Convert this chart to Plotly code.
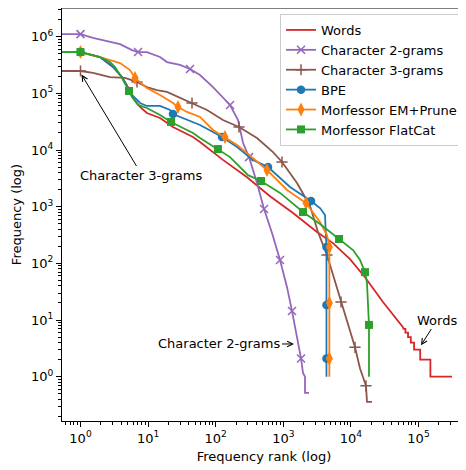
import math
import plotly.graph_objects as go

# ---------------- data (rank, frequency) ----------------
words_rank = [0.5, 1, 1.94, 3.03, 4.11, 5.04, 5.98, 7.6, 9.6, 15.0, 23.3, 32.8, 46.1, 58.6, 91.2, 128,
              291, 636, 1393, 3153, 5430, 9700, 16180, 29800, 58900, 60000, 64000, 64000, 70000, 70000,
              77000, 77000, 86000, 86000, 106000, 106000, 150000, 150000, 313000]
words_freq = [5.36e5, 5.36e5, 4.38e5, 2.92e5, 1.94e5, 1.29e5, 8.3e4, 5.75e4, 4.5e4, 3.68e4, 2.55e4, 2.08e4,
              1.7e4, 1.39e4, 9.2e3, 6.7e3, 3.3e3, 1.53e3, 774, 357, 228, 119, 57, 20.8, 7.5, 7, 7, 6, 6, 5,
              5, 4, 4, 3, 3, 2, 2, 1, 1]

bi_rank = [0.5, 1, 1.53, 3.84, 5.78, 7.1, 9.6, 15.0, 19.0, 29.6, 41.7, 58.6, 91.2, 163, 214, 254, 311, 408,
           519, 681, 894, 1135, 1346, 1596, 1829, 1956, 2094, 2094, 2401]
bi_freq = [1.11e6, 1.11e6, 9.5e5, 7.4e5, 5.8e5, 5.36e5, 5.36e5, 4.38e5, 3.57e5, 3.17e5, 2.69e5, 2.11e5,
           1.29e5, 6.24e4, 3.39e4, 1.33e4, 7.5e3, 2.62e3, 910, 343, 115, 38, 14.4, 5.0, 2.1, 1.16, 1,
           0.52, 0.52]
bi_marks = [1, 5, 10, 13, 16, 18, 20, 22, 24]

tri_rank = [0.5, 1, 1.53, 2.73, 4.55, 6.85, 9.6, 13.5, 19.0, 29.6, 44.6, 74.3, 128, 221, 408, 704, 957,
            1596, 2484, 3263, 4430, 7140, 11500, 13650, 15100, 16720, 17300, 20500]
tri_freq = [2.48e5, 2.48e5, 2.29e5, 1.94e5, 1.87e5, 1.59e5, 1.29e5, 1.14e5, 1.06e5, 8.3e4, 6.76e4, 5.09e4,
            3.39e4, 2.55e4, 1.63e4, 9.2e3, 6.15e3, 2.62e3, 1.03e3, 357, 140, 20.8, 3.3, 1.4, 1, 0.69,
            0.36, 0.36]
tri_marks = [1, 5, 10, 13, 16, 20, 21, 22, 25]

bpe_rank = [0.5, 1, 1.94, 3.03, 4.11, 5.04, 5.78, 7.6, 9.6, 15.0, 21.1, 23.3, 32.8, 46.1, 58.6, 91.2, 124,
            207, 356, 594, 1257, 2570, 3490, 4140, 4350, 4350, 4350, 4350]
bpe_freq = [5.36e5, 5.36e5, 4.38e5, 2.92e5, 1.94e5, 1.24e5, 9.35e4, 6.76e4, 5.99e4, 5.99e4, 5.09e4, 4.33e4,
            3.68e4, 3.13e4, 2.77e4, 2.08e4, 1.7e4, 1.13e4, 6.7e3, 5.0e3, 2.23e3, 1.26e3, 948, 713, 194,
            18.4, 2.1, 1]
bpe_marks = [1, 11, 16, 19, 21, 24, 25, 26]

em_rank = [0.5, 1, 1.94, 2.73, 3.84, 5.4, 6.4, 9.6, 15.0, 23.3, 27.7, 37.6, 58.6, 91.2, 137, 207, 356, 574,
           1135, 2167, 3490, 4430, 4800, 4800, 4800, 4800]
em_freq = [5.36e5, 5.36e5, 4.38e5, 3.87e5, 3.43e5, 2.58e5, 1.87e5, 1.24e5, 9.35e4, 6.76e4, 5.75e4, 4.7e4,
           3.83e4, 2.26e4, 1.7e4, 1.23e4, 7.2e3, 4.45e3, 1.97e3, 1.16e3, 537, 317, 194, 20, 2.1, 1]
em_marks = [1, 6, 10, 14, 17, 19, 22, 23, 24]

fc_rank = [0.5, 1, 1.94, 2.73, 3.24, 4.11, 5.22, 5.78, 7.1, 9.6, 15.0, 21.8, 32.8, 46.1, 58.6, 108, 163,
           301, 468, 894, 1956, 3490, 6670, 10740, 13650, 16180, 17300, 18520, 18520]
fc_freq = [5.36e5, 5.36e5, 4.38e5, 3.57e5, 2.92e5, 1.87e5, 1.1e5, 8.6e4, 6.24e4, 5.52e4, 4.15e4, 3.13e4,
           2.45e4, 2.0e4, 1.63e4, 1.04e4, 7.5e3, 3.6e3, 2.84e3, 1.75e3, 805, 495, 269, 172, 115, 70, 45,
           8.2, 1]
fc_marks = [1, 6, 11, 15, 18, 20, 22, 25, 27]

# annotations: (text, head rank, head freq, text rank, text freq)
notes = [
    ("Character 3-grams", 1.0, 2.3e5, 8.1, 3620),
    ("Character 2-grams", 1540, 3.78, 112, 3.78),
    ("Words", 105000, 3.35, 188000, 10),
]

x_ticks = [1, 10, 100, 1000, 10000, 100000]
y_ticks = [1, 10, 100, 1000, 10000, 100000, 1000000]

# ---------------- figure ----------------
FONT = "DejaVu Sans"
FS = 13
LW = 1.8

series = [
    ("Words", words_rank, words_freq, None, "#d62728", None),
    ("Character 2-grams", bi_rank, bi_freq, bi_marks, "#9467bd",
     dict(symbol="x-thin", size=8, line=dict(width=1.5, color="#9467bd"))),
    ("Character 3-grams", tri_rank, tri_freq, tri_marks, "#8c564b",
     dict(symbol="cross-thin", size=8, line=dict(width=1.5, color="#8c564b"))),
    ("BPE", bpe_rank, bpe_freq, bpe_marks, "#1f77b4",
     dict(symbol="circle", size=8.5, color="#1f77b4", line=dict(width=0))),
    ("Morfessor EM+Prune", em_rank, em_freq, em_marks, "#ff7f0e",
     dict(symbol="diamond-tall", size=10, color="#ff7f0e", line=dict(width=0))),
    ("Morfessor FlatCat", fc_rank, fc_freq, fc_marks, "#2ca02c",
     dict(symbol="square", size=8, color="#2ca02c", line=dict(width=0))),
]

fig = go.Figure()
for name, xr, yf, marks, color, mk in series:
    fig.add_trace(go.Scatter(x=xr, y=yf, mode="lines", line=dict(color=color, width=LW),
                             showlegend=False, hoverinfo="skip"))
    if marks:
        fig.add_trace(go.Scatter(x=[xr[i] for i in marks], y=[yf[i] for i in marks], mode="markers",
                                 marker=mk, showlegend=False, hoverinfo="skip"))

for name, xr, yf, marks, color, mk in series:
    fig.add_trace(go.Scatter(x=[None], y=[None], name=name,
                             mode="lines+markers" if mk else "lines",
                             line=dict(color=color, width=LW),
                             marker=mk if mk else None))

for text, hx, hy, tx, ty in notes:
    fig.add_annotation(x=math.log10(hx), y=math.log10(hy), ax=math.log10(tx), ay=math.log10(ty),
                       axref="x", ayref="y", xref="x", yref="y", text=text, showarrow=True,
                       arrowhead=5, arrowsize=1.1, arrowwidth=1, arrowcolor="black", standoff=2,
                       font=dict(family=FONT, size=FS, color="black"))

minor_vals = [m * 10 ** e for e in range(-1, 7) for m in range(2, 10)]

# page body has an 8px margin, so the figure is 8px smaller and shifted
fig.update_layout(
    width=458, height=462,
    margin=dict(l=54, r=0, t=0, b=49),
    paper_bgcolor="white", plot_bgcolor="white",
    font=dict(family=FONT, size=FS, color="black"),
    showlegend=True,
    legend=dict(x=0.9926, y=0.9855, xanchor="right", yanchor="top",
                bgcolor="rgba(255,255,255,0.8)", bordercolor="#cccccc", borderwidth=1,
                font=dict(family=FONT, size=FS, color="black"), tracegroupgap=0),
    xaxis=dict(type="log", range=[-0.2737, 5.7027], showgrid=False, zeroline=False,
               showline=True, linecolor="black", linewidth=1,
               tickmode="array", tickvals=x_ticks,
               ticktext=["10<sup>%d</sup>" % int(round(math.log10(v))) for v in x_ticks],
               ticks="outside", ticklen=5, tickwidth=1, tickcolor="black",
               minor=dict(tickmode="array", tickvals=minor_vals, ticks="outside", ticklen=3,
                          tickwidth=0.7, tickcolor="black", showgrid=False),
               title=dict(text="Frequency rank (log)", standoff=7,
                          font=dict(family=FONT, size=FS, color="black"))),
    yaxis=dict(type="log", range=[-0.7817, 6.5063], showgrid=False, zeroline=False,
               showline=True, linecolor="black", linewidth=1,
               tickmode="array", tickvals=y_ticks,
               ticktext=["10<sup>%d</sup>" % int(round(math.log10(v))) for v in y_ticks],
               ticks="outside", ticklen=5, tickwidth=1, tickcolor="black",
               minor=dict(tickmode="array", tickvals=minor_vals, ticks="outside", ticklen=3,
                          tickwidth=0.7, tickcolor="black", showgrid=False),
               title=dict(text="Frequency (log)", standoff=6,
                          font=dict(family=FONT, size=FS, color="black"))),
    shapes=[dict(type="line", xref="paper", yref="paper", x0=0, x1=1, y0=1, y1=1,
                 line=dict(color="black", width=1))],
)

fig.write_html("out.html")
